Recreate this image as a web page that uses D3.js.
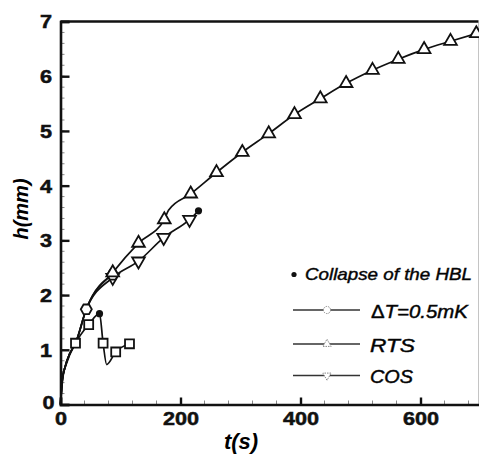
<!DOCTYPE html>
<html><head><meta charset="utf-8">
<script src="https://cdn.jsdelivr.net/npm/d3@7"></script>
<style>body{margin:0;background:#fff}svg{display:block}text{font-family:"Liberation Sans",Arial,sans-serif}</style>
</head><body>
<svg id="c" width="479" height="454"></svg>
<script>
// RTS (up triangles)
const rtsT = [0, 3, 8, 15, 25, 43, 87, 130, 173, 180, 217, 260, 303, 347, 390, 433, 476, 520, 563, 606, 650, 693];
const rtsH = [0, 0.45, 0.7, 0.92, 1.12, 1.74, 2.41, 2.95, 3.38, 3.55, 3.85, 4.24, 4.61, 4.95, 5.30, 5.59, 5.87, 6.11, 6.31, 6.49, 6.64, 6.78];
const rtsMarkT = [87, 130, 173, 217, 260, 303, 347, 390, 433, 476, 520, 563, 606, 650, 693];
// COS (down triangles)
const cosT = [0, 3, 8, 15, 25, 43, 87, 130, 172, 215, 230];
const cosH = [0, 0.45, 0.7, 0.92, 1.12, 1.74, 2.32, 2.62, 3.05, 3.38, 3.54];
const cosMarkT = [87, 130, 172, 215];
// ΔT=0.5mK (hexagons)
const dtT = [0, 3, 8, 15, 25, 43, 87];
const dtH = [0, 0.45, 0.7, 0.92, 1.12, 1.74, 2.37];
const dtMarkT = [43, 87];
// unlabeled square series
const sqT = [0, 4, 10, 25, 47, 65, 71, 77, 92, 115];
const sqH = [0, 0.5, 0.75, 1.12, 1.46, 1.66, 1.12, 0.73, 0.96, 1.11];
const sqMarkT = [25, 47, 71, 92, 115];
// collapse of the HBL points
const colT = [65, 230];
const colH = [1.66, 3.54];

const xTicks = [0, 200, 400, 600];
const yTicks = [0, 1, 2, 3, 4, 5, 6, 7];
const legendLabels = ["Collapse of the HBL", "\u0394T=0.5mK", "RTS", "COS"];

const svg = d3.select("#c");
const x = d3.scaleLinear().domain([0, 700]).range([60.5, 480.5]);
const y = d3.scaleLinear().domain([0, 7]).range([404.5, 21.5]);

const plotW = 478.5;
const SX = 1.2;
// frame
svg.append("line").attr("x1", 60.5).attr("x2", plotW).attr("y1", y(7)).attr("y2", y(7)).attr("stroke", "#111").attr("stroke-width", 2.4);
svg.append("line").attr("x1", plotW).attr("x2", plotW).attr("y1", y(7)).attr("y2", y(0)).attr("stroke", "#888").attr("stroke-width", 1).attr("stroke-dasharray", "1,1");

// minor ticks
const minorY = d3.range(0, 7.001, 0.2);
svg.append("g").selectAll("line").data(minorY).join("line")
  .attr("x1", 60.5).attr("x2", 64.5).attr("y1", d => y(d)).attr("y2", d => y(d))
  .attr("stroke", "#888").attr("stroke-width", 1);
const minorX = d3.range(0, 700, 40);
svg.append("g").selectAll("line").data(minorX).join("line")
  .attr("x1", d => x(d)).attr("x2", d => x(d)).attr("y1", y(0)).attr("y2", y(0) - 4)
  .attr("stroke", "#888").attr("stroke-width", 1);

// axes
const yAxis = d3.axisLeft(y).tickValues(yTicks).tickSize(-9).tickFormat(d3.format("d"));
const gy = svg.append("g").attr("transform", "translate(60.5,0)").call(yAxis);
gy.select(".domain").attr("stroke", "#111").attr("stroke-width", 2.6);
gy.selectAll(".tick line").attr("stroke", "#111").attr("stroke-width", 2.4);
gy.selectAll(".tick text").attr("font-size", 18).style("font-weight", "bold").attr("fill", "#111")
  .attr("stroke", "#111").attr("stroke-width", 0.5)
  .attr("transform", `scale(${SX},1)`).attr("x", -8.5 / SX).attr("dy", "0.36em");
gy.selectAll(".tick").filter(d => d === 0).select("text").attr("x", -6 / SX).attr("dy", "0.2em");

const xAxis = d3.axisBottom(x).tickValues(xTicks).tickSize(-7).tickFormat(d3.format("d"));
const gx = svg.append("g").attr("transform", "translate(0,404.5)").call(xAxis);
gx.select(".domain").attr("stroke", "#111").attr("stroke-width", 2.6);
gx.selectAll(".tick line").attr("stroke", "#111").attr("stroke-width", 2.4);
gx.selectAll(".tick text").attr("font-size", 18).style("font-weight", "bold").attr("fill", "#111")
  .attr("stroke", "#111").attr("stroke-width", 0.5)
  .attr("transform", `scale(${SX},1)`).attr("y", 20.5).attr("dy", 0);

// axis titles
svg.append("text").attr("x", 241).attr("y", 449).attr("text-anchor", "middle")
  .attr("font-size", 22).style("font-style", "italic").style("font-weight", "bold").text("t(s)");
svg.append("text").attr("transform", "translate(28,209) rotate(-90)").attr("text-anchor", "middle")
  .attr("font-size", 20).style("font-style", "italic").style("font-weight", "bold").text("h(mm)");

const line = d3.line().x(d => x(d[0])).y(d => y(d[1])).curve(d3.curveMonotoneX);
function series(T, H) { return T.map((t, i) => [t, H[i]]); }
function drawLine(T, H, w) {
  svg.append("path").datum(series(T, H)).attr("d", line).attr("fill", "none")
    .attr("stroke", "#111").attr("stroke-width", w || 1.7);
}
drawLine(sqT, sqH);
drawLine(dtT, dtH);
drawLine(cosT, cosH);
drawLine(rtsT, rtsH);

function hAt(T, H, t) { return H[T.indexOf(t)]; }

const triUp = d3.symbol().type(d3.symbolTriangle).size(70);
const triDown = d3.symbol().type(d3.symbolTriangle).size(70);
const sq = d3.symbol().type(d3.symbolSquare).size(80);
const hex = "M-5.5,0L-2.75,-4.8L2.75,-4.8L5.5,0L2.75,4.8L-2.75,4.8Z";

function markers(T, H, M, path, rot) {
  svg.append("g").selectAll("path").data(M).join("path")
    .attr("d", path)
    .attr("transform", t => `translate(${x(t)},${y(hAt(T, H, t))}) rotate(${rot || 0})`)
    .attr("fill", "#fff").attr("stroke", "#111").attr("stroke-width", 1.8);
}
markers(sqT, sqH, sqMarkT, sq);
markers(cosT, cosH, cosMarkT, triDown, 180);
markers(dtT, dtH, dtMarkT, hex);
markers(rtsT, rtsH, rtsMarkT, triUp);

svg.append("g").selectAll("circle").data(colT).join("circle")
  .attr("cx", d => x(d)).attr("cy", (d, i) => y(colH[i])).attr("r", 3.6).attr("fill", "#111");

// legend
const lg = svg.append("g");
lg.append("circle").attr("cx", 294).attr("cy", 274.5).attr("r", 2.6).attr("fill", "#111");
lg.append("text").attr("x", 305).attr("y", 280).attr("font-size", 17).style("font-style", "italic")
  .attr("stroke", "#111").attr("stroke-width", 0.45)
  .attr("textLength", 167).attr("lengthAdjust", "spacingAndGlyphs").text(legendLabels[0]);
const legRows = [
  {y: 310, base: 318, sym: d3.symbol().type(d3.symbolCircle).size(40), rot: 0, w: 97},
  {y: 344, base: 351.5, sym: d3.symbol().type(d3.symbolTriangle).size(30), rot: 0, w: 45},
  {y: 375.5, base: 383, sym: d3.symbol().type(d3.symbolTriangle).size(30), rot: 180, w: 43}
];
legRows.forEach((r, i) => {
  lg.append("line").attr("x1", 293).attr("x2", 360).attr("y1", r.y).attr("y2", r.y).attr("stroke", "#333").attr("stroke-width", 1.3);
  lg.append("path").attr("d", r.sym).attr("transform", `translate(327,${r.y}) rotate(${r.rot})`)
    .attr("fill", "#fff").attr("stroke", "#888").attr("stroke-width", 1).attr("stroke-dasharray", "1.5,1");
  const t = lg.append("text").attr("x", i === 0 ? 371 : 370).attr("y", r.base).attr("font-size", 18)
    .attr("stroke", "#111").attr("stroke-width", 0.45)
    .attr("textLength", r.w).attr("lengthAdjust", "spacingAndGlyphs");
  const lab = legendLabels[i + 1];
  if (lab.startsWith("\u0394")) {
    t.append("tspan").style("font-style", "normal").text("\u0394");
    t.append("tspan").style("font-style", "italic").text(lab.slice(1));
  } else {
    t.style("font-style", "italic").text(lab);
  }
});
</script>
</body></html>
